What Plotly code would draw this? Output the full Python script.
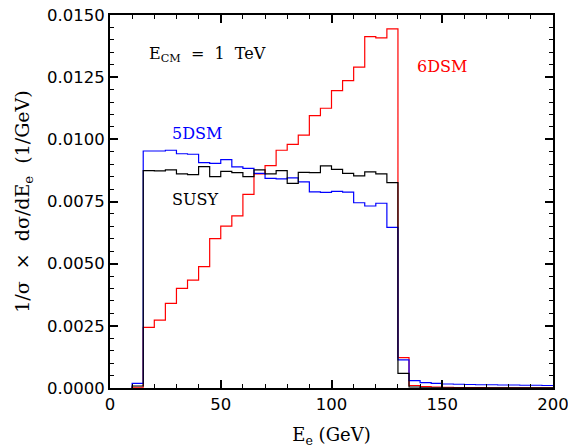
import plotly.graph_objects as go

# Bin lower edges (GeV), 5 GeV bins
E_lo = list(range(10, 200, 5))
E_hi_last = 200

red_6dsm = [0.00003, 0.00244, 0.00273, 0.00340, 0.00401, 0.00434, 0.00488, 0.00601,
            0.00651, 0.00692, 0.00779, 0.00861, 0.00894, 0.00956, 0.00980, 0.01017,
            0.01095, 0.01125, 0.01196, 0.01236, 0.01290, 0.01413, 0.01408, 0.01444,
            0.00122, 0.00010, 0.00006, 0.00004, 0.00003, 0.00002, 0.00002, 0.00002,
            0.00001, 0.00001, 0.00001, 0.00001, 0.00001, 0.00001]
blue_5dsm = [0.00019, 0.00953, 0.00953, 0.00956, 0.00942, 0.00940, 0.00906, 0.00903,
             0.00918, 0.00889, 0.00883, 0.00863, 0.00843, 0.00841, 0.00845, 0.00829,
             0.00789, 0.00787, 0.00791, 0.00788, 0.00745, 0.00732, 0.00743, 0.00646,
             0.00113, 0.00030, 0.00022, 0.00019, 0.00016, 0.00015, 0.00014, 0.00013,
             0.00013, 0.00012, 0.00012, 0.00011, 0.00011, 0.00010]
black_susy = [0.00008, 0.00874, 0.00873, 0.00877, 0.00861, 0.00858, 0.00890, 0.00850,
              0.00871, 0.00866, 0.00850, 0.00877, 0.00861, 0.00874, 0.00823, 0.00867,
              0.00866, 0.00893, 0.00879, 0.00863, 0.00853, 0.00869, 0.00861, 0.00826,
              0.00059, 0.00004, 0.00001, 0.00001, 0.00001, 0.00001, 0.00001, 0.00001,
              0.00001, 0.00001, 0.00001, 0.00001, 0.00001, 0.00001]

y_ticks = [0.0, 0.0025, 0.005, 0.0075, 0.01, 0.0125, 0.015]
x_ticks = [0, 50, 100, 150, 200]


def step_xy(vals):
    xs = [E_lo[0]] + E_lo + [E_hi_last]
    ys = [0.0] + vals + [vals[-1]]
    return xs, ys


fig = go.Figure()
for vals, col in [(red_6dsm, "#ff0000"), (blue_5dsm, "#0000ff"), (black_susy, "#000000")]:
    xs, ys = step_xy(vals)
    fig.add_trace(go.Scatter(x=xs, y=ys, mode="lines", line=dict(shape="hv", color=col, width=1.2),
                             showlegend=False, hoverinfo="skip"))

serif = "DejaVu Serif"
sans = "DejaVu Sans"

fig.update_layout(
    width=568, height=448,
    margin=dict(l=110, r=15, t=15, b=60, autoexpand=False),
    paper_bgcolor="white", plot_bgcolor="white",
    font=dict(family=sans, size=16, color="black"),
)
fig.update_xaxes(
    range=[0, 200], tickvals=x_ticks, ticktext=[str(v) for v in x_ticks],
    ticks="inside", ticklen=8, tickwidth=1.5, tickcolor="black",
    minor=dict(dtick=10, ticks="inside", ticklen=4, tickwidth=1.2, tickcolor="black"),
    showline=True, linecolor="black", linewidth=2, mirror="allticks",
    showgrid=False, zeroline=False, automargin=False, ticklabeloverflow="allow",
    tickfont=dict(family=sans, size=16.5),
    title=dict(text="E<sub>e</sub> (GeV)", font=dict(family=serif, size=18), standoff=21),
)
fig.update_yaxes(
    range=[0, 0.015], tickvals=y_ticks, ticktext=[f"{v:.4f}" for v in y_ticks],
    ticks="inside", ticklen=8, tickwidth=1.5, tickcolor="black",
    minor=dict(dtick=0.0005, ticks="inside", ticklen=4, tickwidth=1.2, tickcolor="black"),
    showline=True, linecolor="black", linewidth=2, mirror="allticks",
    showgrid=False, zeroline=False, automargin=False, ticklabeloverflow="allow",
    tickfont=dict(family=sans, size=16.5),
    title=dict(text="1/σ  ×  dσ/dE<sub>e</sub>  (1/GeV)", font=dict(family=serif, size=19), standoff=12),
)

ann = [
    ("E<sub>CM</sub>  =  1  TeV", 16.7, 0.01343, "black"),
    ("5DSM", 27.1, 0.01025, "#0000ff"),
    ("SUSY", 27.1, 0.0076, "black"),
    ("6DSM", 137.7, 0.01291, "#ff0000"),
]
for text, x, y, col in ann:
    fig.add_annotation(x=x, y=y, text=text, showarrow=False, xanchor="left", yanchor="middle",
                       font=dict(family=serif, size=16, color=col))

fig.write_html("out.html", config={"displayModeBar": False},
               post_script="document.body.style.margin='0';document.body.style.overflow='hidden';")
